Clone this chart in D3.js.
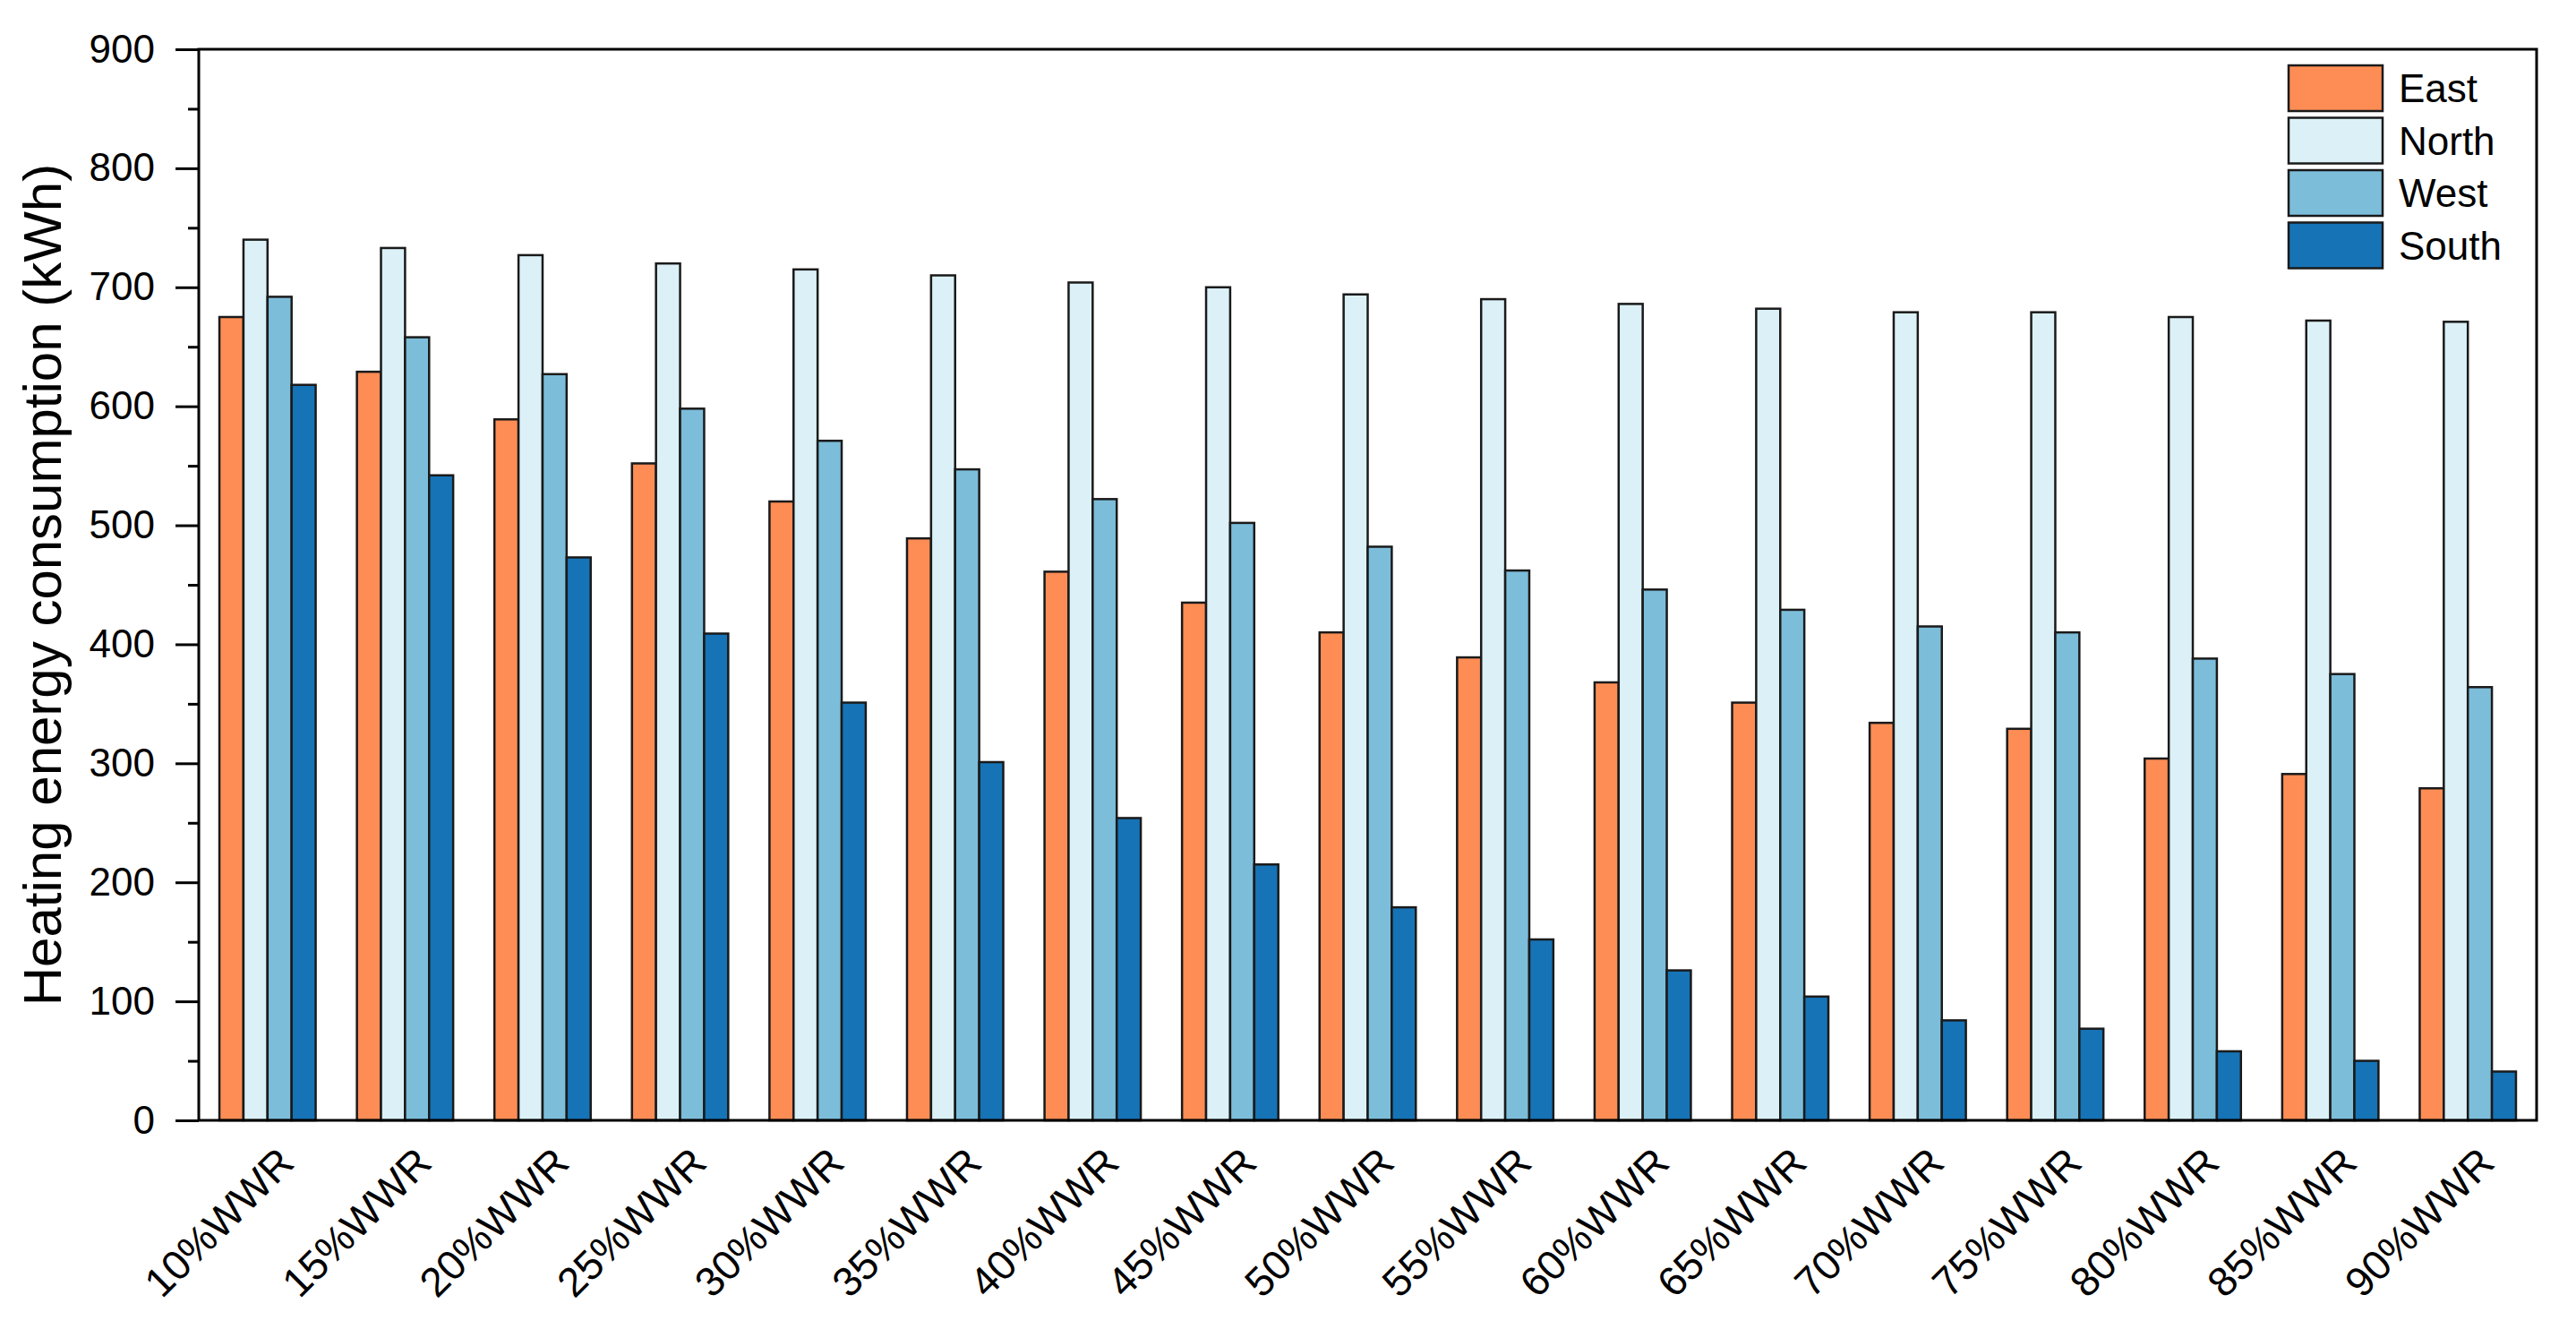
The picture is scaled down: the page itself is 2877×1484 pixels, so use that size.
<!DOCTYPE html>
<html>
<head>
<meta charset="utf-8">
<script src="https://cdn.jsdelivr.net/npm/d3@7"></script>
<style>
  body { margin: 0; background: #fff; }
  text { font-family: Arial, "Liberation Sans", sans-serif; }
</style>
</head>
<body>
<div id="chart"></div>
<script>
// width and height
var w = 2877;
var h = 1484;

var categories = ["10%WWR", "15%WWR", "20%WWR", "25%WWR", "30%WWR", "35%WWR",
  "40%WWR", "45%WWR", "50%WWR", "55%WWR", "60%WWR", "65%WWR", "70%WWR",
  "75%WWR", "80%WWR", "85%WWR", "90%WWR"];

var seriesNames = ["East", "North", "West", "South"];
var seriesColors = ["#FD8D55", "#DBF1F7", "#7CBDDA", "#1673B6"];

var east  = [675, 629, 589, 552, 520, 489, 461, 435, 410, 389, 368, 351, 334, 329, 304, 291, 279];
var north = [740, 733, 727, 720, 715, 710, 704, 700, 694, 690, 686, 682, 679, 679, 675, 672, 671];
var west  = [692, 658, 627, 598, 571, 547, 522, 502, 482, 462, 446, 429, 415, 410, 388, 375, 364];
var south = [618, 542, 473, 409, 351, 301, 254, 215, 179, 152, 126, 104, 84, 77, 58, 50, 41];

var yTicks = [0, 100, 200, 300, 400, 500, 600, 700, 800, 900];
var yMinorTicks = [50, 150, 250, 350, 450, 550, 650, 750, 850];

var values = [east, north, west, south];

// plot area (not "top": that name is taken by window.top)
var plotLeft = 222, plotRight = 2833, plotTop = 55, plotBottom = 1251;

var svg = d3.select("#chart")
  .append("svg")
  .attr("width", w)
  .attr("height", h);

var x = d3.scaleBand()
  .domain(categories)
  .range([plotLeft, plotRight])
  .paddingInner(0.3)
  .paddingOuter(0.15);

var xSub = d3.scaleBand()
  .domain(seriesNames)
  .range([0, x.bandwidth()]);

var y = d3.scaleLinear()
  .domain([0, 900])
  .range([plotBottom, plotTop]);

// bars
var rows = [];
for (i = 0; i < categories.length; i++) {
  for (j = 0; j < seriesNames.length; j++) {
    rows.push({cat: categories[i], s: j, v: values[j][i]});
  }
}

svg.selectAll("rect.bar")
  .data(rows)
  .enter()
  .append("rect")
  .attr("class", "bar")
  .attr("x", function(d) {
    return x(d.cat) + xSub(seriesNames[d.s]);
  })
  .attr("y", function(d) {
    return y(d.v);
  })
  .attr("width", xSub.bandwidth())
  .attr("height", function(d) {
    return y(0) - y(d.v);
  })
  .attr("fill", function(d) {
    return seriesColors[d.s];
  })
  .attr("stroke", "#1a1a1a")
  .attr("stroke-width", 2.5);

// y axis, major ticks
var yAxis = svg.append("g")
  .attr("transform", "translate(" + plotLeft + ",0)")
  .call(d3.axisLeft(y).tickValues(yTicks).tickSize(26).tickPadding(23));
yAxis.select(".domain").remove();
yAxis.selectAll("line").attr("stroke", "#000").attr("stroke-width", 3);
yAxis.selectAll("text")
  .attr("font-size", "44px")
  .attr("fill", "#000")
  .style("font-family", "Arial, 'Liberation Sans', sans-serif");

// y axis, minor ticks
var yMinor = svg.append("g")
  .attr("transform", "translate(" + plotLeft + ",0)")
  .call(d3.axisLeft(y).tickValues(yMinorTicks).tickSize(12).tickFormat(""));
yMinor.select(".domain").remove();
yMinor.selectAll("line").attr("stroke", "#000").attr("stroke-width", 3);

// x axis labels
var xAxis = svg.append("g")
  .attr("transform", "translate(0," + plotBottom + ")")
  .call(d3.axisBottom(x).tickSize(0));
xAxis.select(".domain").remove();
xAxis.selectAll("text")
  .attr("font-size", "46px")
  .attr("fill", "#000")
  .style("font-family", "Arial, 'Liberation Sans', sans-serif")
  .attr("text-anchor", "end")
  .attr("x", 0)
  .attr("y", 0)
  .attr("dy", 0)
  .attr("transform", "translate(32,50) rotate(-45)");

// frame
svg.append("rect")
  .attr("x", plotLeft)
  .attr("y", plotTop)
  .attr("width", plotRight - plotLeft)
  .attr("height", plotBottom - plotTop)
  .attr("fill", "none")
  .attr("stroke", "#000")
  .attr("stroke-width", 3);

// y title
svg.append("text")
  .attr("transform", "translate(68," + ((plotTop + plotBottom) / 2) + ") rotate(-90)")
  .attr("text-anchor", "middle")
  .attr("font-size", "60px")
  .attr("fill", "#000")
  .text("Heating energy consumption (kWh)");

// legend
var legend = svg.append("g")
  .attr("transform", "translate(2556,73)");

var lg = legend.selectAll("g")
  .data(seriesNames)
  .enter()
  .append("g")
  .attr("transform", function(d, i) {
    return "translate(0," + (i * 58.5) + ")";
  });

lg.append("rect")
  .attr("width", 105)
  .attr("height", 51)
  .attr("fill", function(d, i) {
    return seriesColors[i];
  })
  .attr("stroke", "#1a1a1a")
  .attr("stroke-width", 2.5);

lg.append("text")
  .attr("x", 123)
  .attr("y", 41)
  .attr("font-size", "44px")
  .attr("fill", "#000")
  .text(function(d) {
    return d;
  });
</script>
</body>
</html>
